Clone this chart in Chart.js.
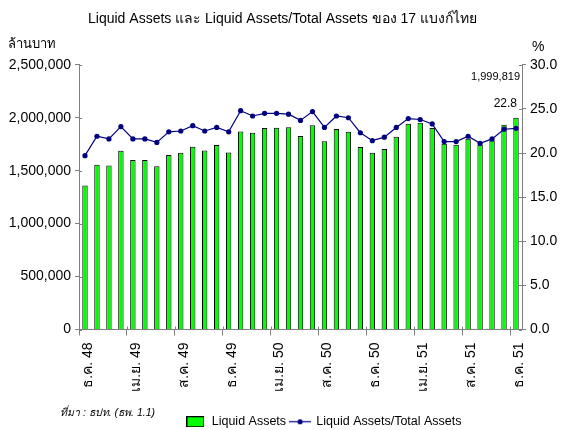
<!DOCTYPE html>
<html>
<head>
<meta charset="utf-8">
<script src="https://cdn.jsdelivr.net/npm/chart.js@4/dist/chart.umd.min.js"></script>
<style>
html,body{margin:0;padding:0;background:#fff;}
#wrap{width:565px;height:430px;}
</style>
</head>
<body>
<div id="wrap"><canvas id="c" width="565" height="430"></canvas></div>
<script>
const categories = [
  'ธ.ค. 48','ม.ค. 49','ก.พ. 49','มี.ค. 49','เม.ย. 49','พ.ค. 49','มิ.ย. 49','ก.ค. 49','ส.ค. 49','ก.ย. 49','ต.ค. 49','พ.ย. 49',
  'ธ.ค. 49','ม.ค. 50','ก.พ. 50','มี.ค. 50','เม.ย. 50','พ.ค. 50','มิ.ย. 50','ก.ค. 50','ส.ค. 50','ก.ย. 50','ต.ค. 50','พ.ย. 50',
  'ธ.ค. 50','ม.ค. 51','ก.พ. 51','มี.ค. 51','เม.ย. 51','พ.ค. 51','มิ.ย. 51','ก.ค. 51','ส.ค. 51','ก.ย. 51','ต.ค. 51','พ.ย. 51',
  'ธ.ค. 51'
];
const liquidAssets = [
  1361000,1556000,1550000,1688000,1600000,1600000,1543000,1647000,1669000,1726000,1691000,1742000,
  1672000,1871000,1858000,1902000,1906000,1911000,1827000,1928000,1779000,1893000,1868000,1723000,
  1669000,1704000,1821000,1943000,1953000,1902000,1754000,1745000,1802000,1745000,1786000,1934000,
  1999819
];
const ratioPct = [
  19.7,21.9,21.6,23.0,21.6,21.6,21.2,22.4,22.5,23.1,22.5,22.9,
  22.4,24.8,24.2,24.5,24.5,24.4,23.7,24.7,22.9,24.2,24.0,22.3,
  21.4,21.8,22.9,23.9,23.8,23.3,21.3,21.3,21.9,21.1,21.6,22.7,
  22.8
];
const leftTicks = [0,500000,1000000,1500000,2000000,2500000];
const rightTicks = [0,5,10,15,20,25,30];
const labelEvery = 4;

const FONT = "'Liberation Sans', Arial, 'DejaVu Sans', sans-serif";
const GREEN = '#00FF00';
const NAVY = '#000080';
const AXIS = '#808080';

function makeBarIcon(){
  const c = document.createElement('canvas'); c.width = 18; c.height = 11;
  const x = c.getContext('2d');
  x.fillStyle = GREEN; x.fillRect(0.5,0.5,17,10);
  x.strokeStyle = '#000'; x.lineWidth = 1; x.strokeRect(0.5,0.5,17,10);
  return c;
}
function makeLineIcon(){
  const c = document.createElement('canvas'); c.width = 22; c.height = 7;
  const x = c.getContext('2d');
  x.strokeStyle = NAVY; x.lineWidth = 1.2;
  x.beginPath(); x.moveTo(0,3.5); x.lineTo(22,3.5); x.stroke();
  x.fillStyle = NAVY; x.beginPath(); x.arc(11,3.5,2.6,0,Math.PI*2); x.fill();
  return c;
}
const barIcon = makeBarIcon();
const lineIcon = makeLineIcon();

const extras = {
  id: 'extras',
  afterLayout(chart){
    chart.legend.left += 41;
    chart.legend.right += 41;
    chart.legend.top += 10;
    chart.legend.bottom += 10;
  },
  afterDraw(chart){
    const ctx = chart.ctx;
    const a = chart.chartArea;
    ctx.save();
    ctx.fillStyle = '#000';
    ctx.font = '13px ' + FONT;
    ctx.textBaseline = 'middle';
    ctx.textAlign = 'left';
    ctx.fillText('ล้านบาท', 8, 44);
    ctx.font = '14px ' + FONT;
    ctx.fillText('%', 532, 47);
    // inward tick halves
    ctx.strokeStyle = AXIS; ctx.lineWidth = 1;
    const yl = chart.scales.y, yr = chart.scales.y1, xs = chart.scales.x;
    leftTicks.forEach(v => { const p = Math.round(yl.getPixelForValue(v)) + 0.5; ctx.beginPath(); ctx.moveTo(a.left, p); ctx.lineTo(a.left + 3, p); ctx.stroke(); });
    rightTicks.forEach(v => { const p = Math.round(yr.getPixelForValue(v)) + 0.5; ctx.beginPath(); ctx.moveTo(a.right - 3, p); ctx.lineTo(a.right, p); ctx.stroke(); });
    const half = (xs.getPixelForValue(1) - xs.getPixelForValue(0)) / 2;
    for (let i = 0; i < categories.length; i += labelEvery) {
      const p = Math.round(xs.getPixelForValue(i) - half) + 0.5;
      ctx.beginPath(); ctx.moveTo(p, a.bottom); ctx.lineTo(p, a.bottom - 3); ctx.stroke();
    }
    // value labels on last point
    const n = liquidAssets.length - 1;
    const bar = chart.getDatasetMeta(0).data[n];
    const pt = chart.getDatasetMeta(1).data[n];
    ctx.textAlign = 'right';
    ctx.font = '11px ' + FONT;
    ctx.fillText(liquidAssets[n].toLocaleString('en-US'), bar.x + 4, 77);
    ctx.font = '12px ' + FONT;
    ctx.fillText(ratioPct[n].toFixed(1), pt.x + 1, pt.y - 25);
    // source note
    ctx.textAlign = 'left';
    ctx.font = 'italic 10.5px ' + FONT;
    ctx.fillText('ที่มา : ธปท. (ธพ. 1.1)', 60, 413);
    ctx.restore();
  }
};

new Chart(document.getElementById('c'), {
  data: {
    labels: categories,
    datasets: [
      {
        type: 'bar',
        label: 'Liquid Assets',
        data: liquidAssets,
        backgroundColor: GREEN,
        borderColor: '#000',
        borderWidth: 1,
        categoryPercentage: 1.0,
        barPercentage: 0.45,
        yAxisID: 'y',
        order: 2
      },
      {
        type: 'line',
        label: 'Liquid Assets/Total Assets',
        data: ratioPct,
        borderColor: NAVY,
        backgroundColor: NAVY,
        borderWidth: 1.2,
        pointRadius: 2.6,
        pointBackgroundColor: NAVY,
        pointBorderWidth: 0,
        tension: 0,
        yAxisID: 'y1',
        order: 1
      }
    ]
  },
  options: {
    responsive: false,
    animation: false,
    devicePixelRatio: 1,
    layout: { padding: { top: 0, left: 0, right: 0, bottom: 2 } },
    plugins: {
      title: {
        display: true,
        text: 'Liquid Assets และ Liquid Assets/Total Assets ของ 17 แบงก์ไทย',
        color: '#000',
        font: { family: FONT, size: 14, weight: 'normal' },
        padding: { top: 11, bottom: 37 }
      },
      legend: {
        display: true,
        position: 'bottom',
        labels: {
          color: '#000',
          font: { family: FONT, size: 12.5 },
          usePointStyle: true,
          pointStyleWidth: 20,
          padding: 4,
          generateLabels(chart){
            return chart.data.datasets.map((d, i) => ({
              text: d.label,
              pointStyle: i === 0 ? barIcon : lineIcon,
              fillStyle: d.backgroundColor,
              strokeStyle: d.borderColor,
              lineWidth: 0,
              hidden: false,
              datasetIndex: i,
              fontColor: '#000'
            }));
          }
        }
      },
      tooltip: { enabled: false }
    },
    scales: {
      x: {
        type: 'category',
        offset: true,
        grid: {
          offset: true,
          drawOnChartArea: false,
          drawTicks: true,
          tickLength: 6,
          color: ctx => (ctx.index % labelEvery === 0 ? AXIS : 'rgba(0,0,0,0)')
        },
        border: { display: true, color: AXIS, width: 1 },
        ticks: {
          autoSkip: false,
          maxRotation: 90,
          minRotation: 90,
          padding: 7,
          labelOffset: 3,
          color: '#000',
          font: { family: FONT, size: 14 },
          callback: (v, i) => (i % labelEvery === 0 ? categories[i] : '')
        },
        afterFit(s){ s.height = 72; }
      },
      y: {
        type: 'linear',
        position: 'left',
        min: 0,
        max: 2500000,
        afterBuildTicks(s){ s.ticks = leftTicks.map(v => ({ value: v })); },
        grid: { drawOnChartArea: false, drawTicks: true, tickLength: 4, color: AXIS },
        border: { display: true, color: AXIS, width: 1 },
        ticks: {
          color: '#000',
          padding: 4,
          font: { family: FONT, size: 14 },
          callback: v => v.toLocaleString('en-US')
        },
        afterFit(s){ s.width = 79; }
      },
      y1: {
        type: 'linear',
        position: 'right',
        min: 0,
        max: 30,
        afterBuildTicks(s){ s.ticks = rightTicks.map(v => ({ value: v })); },
        grid: { drawOnChartArea: false, drawTicks: true, tickLength: 4, color: AXIS },
        border: { display: true, color: AXIS, width: 1 },
        ticks: {
          color: '#000',
          padding: 4,
          font: { family: FONT, size: 14 },
          callback: v => v.toFixed(1)
        },
        afterFit(s){ s.width = 43; }
      }
    }
  },
  plugins: [extras]
});
</script>
</body>
</html>
